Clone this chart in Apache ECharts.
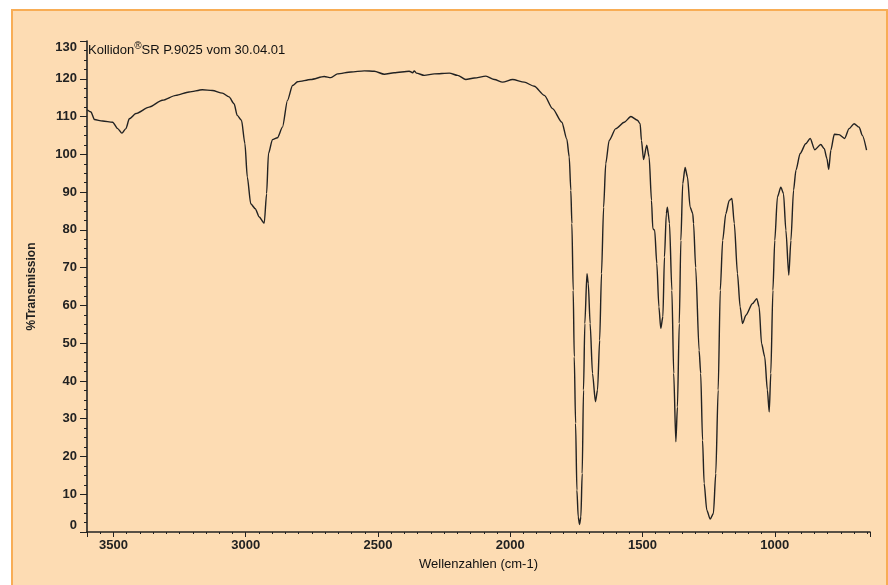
<!DOCTYPE html>
<html>
<head>
<meta charset="utf-8">
<script src="https://cdn.jsdelivr.net/npm/echarts@6/dist/echarts.min.js"></script>
<style>
  html, body { margin: 0; padding: 0; background: #fff; }
  #frame {
    position: absolute; left: 11px; top: 9px; width: 873px; height: 580px;
    background: #fddcb3; border: 2px solid #f8ad55; border-bottom: none;
  }
  #chart { position: absolute; left: 0; top: 0; width: 888px; height: 585px; }
</style>
</head>
<body>
<div id="frame"></div>
<div id="chart"></div>
<script>
// wavenumbers (cm-1) and % transmission
let wavenumbers = [
  3600, 3585, 3572, 3541, 3503, 3484, 3468, 3453, 3440, 3415, 3365, 3315, 3264, 3214, 3164, 3126,
  3088, 3063, 3044, 3032, 3016, 3003, 2994, 2981, 2964, 2949, 2930, 2921, 2914, 2899, 2880, 2861,
  2842, 2823, 2804, 2754, 2703, 2678, 2653, 2602, 2552, 2514, 2476, 2439, 2382, 2369, 2363, 2355,
  2325, 2287, 2230, 2199, 2168, 2136, 2092, 2060, 2029, 1991, 1947, 1909, 1871, 1840, 1805, 1786,
  1777, 1771, 1767, 1762, 1758, 1753, 1748, 1743, 1738, 1733, 1728, 1723, 1718, 1710, 1705, 1698,
  1689, 1678, 1670, 1662, 1655, 1647, 1639, 1626, 1601, 1569, 1544, 1519, 1509, 1504, 1496, 1484,
  1475, 1466, 1461, 1454, 1446, 1438, 1431, 1423, 1417, 1410, 1406, 1398, 1389, 1382, 1374, 1368,
  1361, 1355, 1348, 1339, 1330, 1320, 1310, 1307, 1299, 1286, 1280, 1273, 1267, 1257, 1244, 1232,
  1223, 1214, 1206, 1197, 1185, 1172, 1162, 1153, 1141, 1131, 1122, 1109, 1084, 1068, 1059, 1050,
  1038, 1028, 1021, 1015, 1007, 1000, 990, 977, 967, 958, 947, 939, 929, 920, 904, 883,
  866, 849, 826, 813, 803, 796, 788, 775, 757, 736, 719, 700, 681, 669, 653
];
let transmission = [
  111.8, 111.2, 109.2, 108.8, 108.5, 106.8, 105.6, 106.8, 109.4, 110.8, 112.5, 114.3, 115.6, 116.5, 117.1, 116.9,
  116.2, 115.2, 113.4, 110.3, 109.0, 102.8, 94.0, 86.9, 85.6, 83.4, 81.8, 89.6, 100.2, 103.9, 104.4, 107.2,
  114.3, 118.2, 119.2, 119.8, 120.6, 120.3, 121.3, 121.8, 122.1, 122.0, 121.2, 121.6, 122.0, 121.6, 122.1, 121.5,
  120.9, 121.3, 121.5, 120.9, 119.8, 120.2, 120.7, 119.8, 119.1, 119.8, 119.1, 118.0, 115.6, 112.1, 108.5, 104.0,
  99.3, 90.5, 81.7, 64.0, 46.4, 28.8, 11.1, 4.0, 2.0, 4.0, 15.5, 37.6, 55.2, 68.4, 65.8, 55.2,
  42.0, 34.5, 37.6, 50.8, 68.4, 86.0, 97.5, 103.7, 106.8, 108.5, 110.0, 109.0, 108.1, 103.7, 98.6, 102.4,
  99.3, 87.8, 80.3, 79.9, 71.1, 59.6, 53.9, 57.0, 72.8, 84.3, 86.0, 81.7, 64.0, 42.0, 23.9, 33.1,
  55.2, 77.2, 92.2, 96.5, 94.0, 86.0, 84.3, 81.7, 70.0, 48.1, 42.0, 24.3, 12.9, 5.8, 3.4, 4.9,
  15.5, 37.6, 64.0, 77.2, 84.3, 87.8, 88.3, 81.7, 68.4, 59.6, 55.2, 57.4, 60.5, 61.8, 59.6, 49.9,
  46.4, 37.6, 31.8, 42.0, 64.0, 77.2, 88.7, 91.3, 89.6, 79.9, 68.0, 77.2, 90.5, 95.8, 100.2, 102.8,
  104.2, 101.2, 102.6, 101.5, 98.9, 96.0, 101.1, 105.3, 105.2, 104.2, 106.8, 108.1, 107.2, 105.0, 101.1
];

let font = '"Liberation Sans", Arial, sans-serif';
let ink = '#222';

let myChart = echarts.init(document.getElementById('chart'));
let option = {
  backgroundColor: 'transparent',
  animation: false,
  title: {
    text: 'Kollidon{sup|®}SR P.9025 vom 30.04.01',
    left: 88,
    top: 41,
    padding: 0,
    textStyle: {
      fontFamily: font,
      fontSize: 13,
      fontWeight: 'normal',
      color: '#111',
      rich: {
        sup: { fontFamily: font, fontSize: 10, color: '#111', padding: [0, 0, 8, 0] }
      }
    }
  },
  grid: { left: 87, right: 18, top: 41, bottom: 53 },
  xAxis: {
    type: 'value',
    inverse: true,
    min: 640,
    max: 3600,
    splitNumber: 6,
    name: 'Wellenzahlen (cm-1)',
    nameLocation: 'middle',
    nameGap: 26,
    nameTextStyle: { fontFamily: font, fontSize: 13, color: '#111' },
    axisLine: { lineStyle: { color: ink, width: 1.6 } },
    axisTick: { length: 5, lineStyle: { color: ink } },
    minorTick: { show: true, splitNumber: 10, length: 2, lineStyle: { color: ink } },
    splitLine: { show: false },
    axisLabel: {
      showMinLabel: false, showMaxLabel: false, margin: 7,
      fontFamily: font, fontSize: 13, fontWeight: 'bold', color: ink,
      formatter: v => String(v)
    }
  },
  yAxis: {
    type: 'value',
    min: 0,
    max: 130,
    interval: 10,
    name: '%Transmission',
    nameLocation: 'middle',
    nameRotate: 90,
    nameGap: 49,
    nameTextStyle: { fontFamily: font, fontSize: 12, fontWeight: 'bold', color: ink },
    axisLine: { show: true, lineStyle: { color: ink, width: 1.6 } },
    axisTick: { show: true, length: 7, lineStyle: { color: ink } },
    minorTick: { show: true, splitNumber: 4, length: 3, lineStyle: { color: ink } },
    splitLine: { show: false },
    axisLabel: {
      margin: 10, fontFamily: font, fontSize: 13, fontWeight: 'bold', color: ink,
      verticalAlignMinLabel: 'bottom', verticalAlignMaxLabel: 'top'
    }
  },
  series: [
    {
      type: 'line',
      showSymbol: false,
      smooth: 0.25,
      smoothMonotone: 'x',
      lineStyle: { color: ink, width: 1.4 },
      data: wavenumbers.map((w, i) => [w, transmission[i]])
    }
  ]
};
myChart.setOption(option);
</script>
</body>
</html>
